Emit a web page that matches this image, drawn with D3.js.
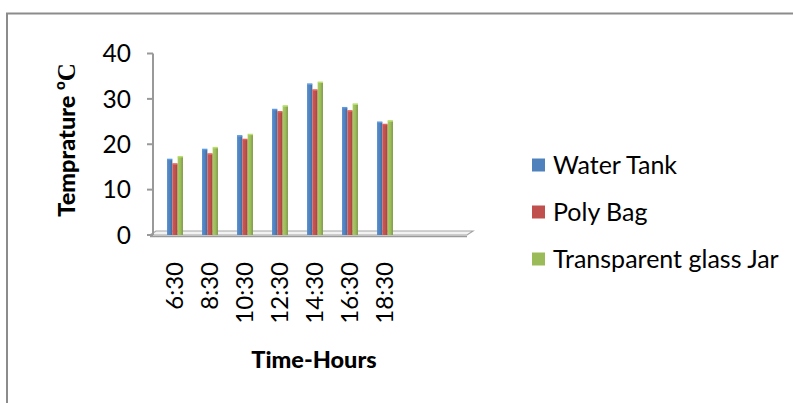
<!DOCTYPE html>
<html>
<head>
<meta charset="utf-8">
<script src="https://cdn.jsdelivr.net/npm/d3@7"></script>
<style>
  html, body { margin: 0; padding: 0; background: #fff; }
  svg { display: block; }
</style>
</head>
<body>
<svg id="chart" width="793" height="403"></svg>
<script>
// Temperature readings through the day for three storage containers
const categories = ["6:30", "8:30", "10:30", "12:30", "14:30", "16:30", "18:30"];
const waterTank = [16.6, 18.8, 21.8, 27.6, 33.2, 28.0, 24.8];
const polyBag = [15.6, 17.8, 21.0, 27.1, 31.9, 27.3, 24.3];
const glassJar = [17.2, 19.2, 22.1, 28.4, 33.6, 28.8, 25.1];
const seriesNames = ["Water Tank", "Poly Bag", "Transparent glass Jar"];
const seriesColors = ["#4F81BD", "#C0504D", "#9BBB59"];
const yTicks = [0, 10, 20, 30, 40];

const series = [waterTank, polyBag, glassJar];
const FONT = "Lato, 'Open Sans', sans-serif";
const svg = d3.select("#chart");

// outer frame
svg.append("path")
  .attr("d", "M7,403 L7,13.5 L793,13.5")
  .attr("fill", "none").attr("stroke", "#8c8c8c").attr("stroke-width", 2);

// category axis has room for nine slots, seven are used
const slots = 9;
const x = d3.scaleBand().domain(d3.range(slots)).range([157.5, 472.5]);
const y = d3.scaleLinear().domain([0, 40]).range([235, 53.5]);
const barW = 5.3;

// floor of the plot (thin 3D slab)
const fx0 = 150, fx1 = 467, dx = 6, dy = 4, fy = y(0);
svg.append("path")
  .attr("d", `M${fx0},${fy} L${fx1},${fy} L${fx1 + dx},${fy - dy} L${fx0 + dx},${fy - dy} Z`)
  .attr("fill", "#f2f2f2").attr("stroke", "#a6a6a6").attr("stroke-width", 1.2);
svg.append("line")
  .attr("x1", fx0).attr("x2", fx1).attr("y1", fy + 1.5).attr("y2", fy + 1.5)
  .attr("stroke", "#9a9a9a").attr("stroke-width", 1.5);

// value axis
const axisX = 153;
svg.append("line")
  .attr("x1", axisX).attr("x2", axisX).attr("y1", y(40)).attr("y2", y(0))
  .attr("stroke", "#999").attr("stroke-width", 2);
svg.selectAll(".ytick").data(yTicks).enter().append("line")
  .attr("x1", axisX - 6).attr("x2", axisX).attr("y1", d => y(d)).attr("y2", d => y(d))
  .attr("stroke", "#999").attr("stroke-width", 2);
svg.selectAll(".ylab").data(yTicks).enter().append("text")
  .attr("x", 131).attr("y", d => y(d)).attr("dy", "0.36em")
  .attr("text-anchor", "end")
  .attr("font-family", FONT).attr("font-size", 24.5).attr("fill", "#000")
  .text(d => d);

// bar shading
const defs = svg.append("defs");
seriesColors.forEach((c, i) => {
  const g = defs.append("linearGradient").attr("id", "g" + i)
    .attr("x1", "0").attr("x2", "1").attr("y1", "0").attr("y2", "0");
  g.append("stop").attr("offset", "0").attr("stop-color", d3.color(c).brighter(0.25));
  g.append("stop").attr("offset", "0.55").attr("stop-color", c);
  g.append("stop").attr("offset", "1").attr("stop-color", d3.color(c).darker(0.6));
});

series.forEach((vals, si) => {
  svg.selectAll(".bar" + si).data(vals).enter().append("rect")
    .attr("x", (d, i) => x(i) + x.bandwidth() / 2 - 1.5 * barW + si * barW)
    .attr("y", d => y(d))
    .attr("width", barW)
    .attr("height", d => y(0) - y(d))
    .attr("fill", `url(#g${si})`);
  // small top cap
  svg.selectAll(".cap" + si).data(vals).enter().append("rect")
    .attr("x", (d, i) => x(i) + x.bandwidth() / 2 - 1.5 * barW + si * barW)
    .attr("y", d => y(d) - 1)
    .attr("width", barW).attr("height", 1.5)
    .attr("fill", d3.color(seriesColors[si]).brighter(0.5));
});

// category labels, rotated
svg.selectAll(".xlab").data(categories).enter().append("text")
  .attr("transform", (d, i) => `translate(${x(i) + x.bandwidth() / 2 - 1},262) rotate(-90)`)
  .attr("dy", "0.36em")
  .attr("text-anchor", "end")
  .attr("font-family", FONT).attr("font-size", 24).attr("fill", "#000")
  .text(d => d);

// axis titles
svg.append("text")
  .attr("x", 314).attr("y", 368)
  .attr("text-anchor", "middle")
  .attr("font-family", FONT).attr("font-weight", 900).attr("font-size", 23.5)
  .text("Time-Hours");

const yt = svg.append("text")
  .attr("transform", "translate(75,140) rotate(-90)")
  .attr("text-anchor", "middle")
  .attr("font-family", FONT).attr("font-weight", 900).attr("font-size", 23.5);
yt.append("tspan").text("Temprature ");
yt.append("tspan").attr("font-size", 15).attr("dy", -10).text("o");
yt.append("tspan").attr("dy", 10).attr("font-family", "'Liberation Serif', serif")
  .attr("font-weight", "bold").attr("font-size", 25).text("C");

// legend
const legend = svg.selectAll(".leg").data(seriesNames).enter().append("g")
  .attr("transform", (d, i) => `translate(532,${165 + i * 47})`);
legend.append("rect")
  .attr("x", 0).attr("y", -6.5).attr("width", 13).attr("height", 13)
  .attr("fill", (d, i) => seriesColors[i]);
legend.append("text")
  .attr("x", 21).attr("y", 0).attr("dy", "0.36em")
  .attr("font-family", FONT).attr("font-size", 25).attr("fill", "#000")
  .text(d => d);
</script>
</body>
</html>
